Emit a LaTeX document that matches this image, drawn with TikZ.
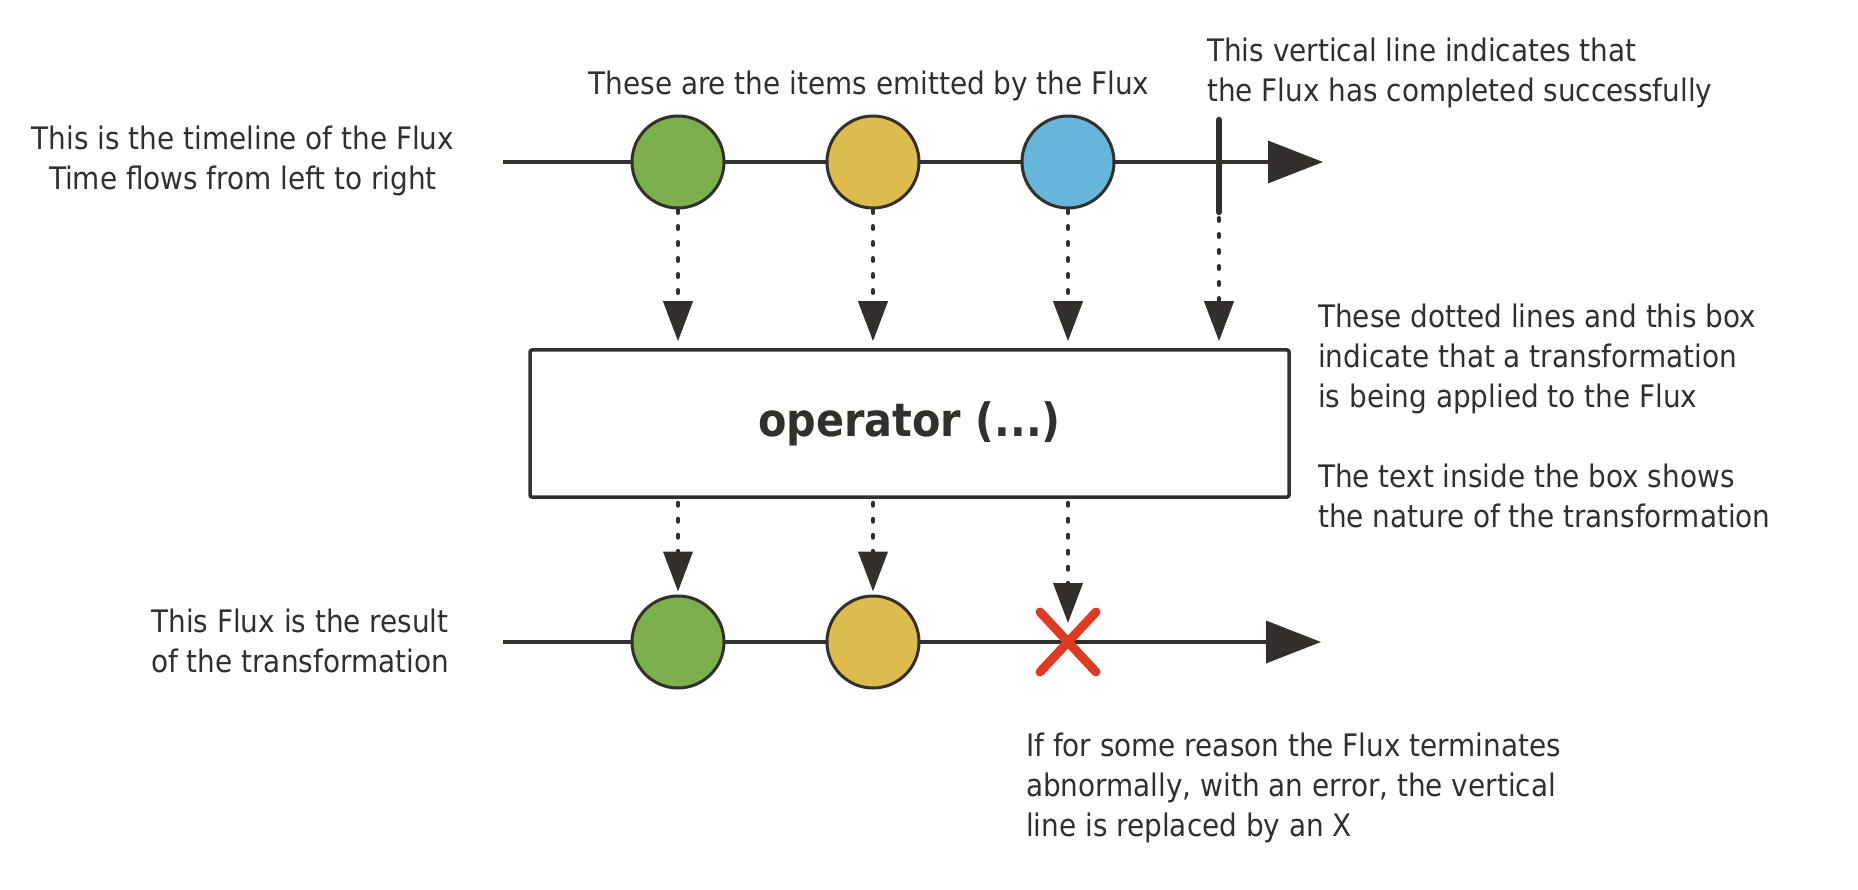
\documentclass[tikz,border=0pt]{standalone}
\usepackage{fontspec}
\setmainfont{DejaVu Sans Condensed}
\usepackage{xcolor}
\definecolor{itemgreen}{HTML}{7CB04E}
\definecolor{itemyellow}{HTML}{DEBB4F}
\definecolor{itemblue}{HTML}{66B5DB}
\definecolor{errred}{HTML}{DD3B24}
\definecolor{ink}{HTML}{33302B}
\usetikzlibrary{positioning, arrows.meta, calc}

\begin{document}
\begin{tikzpicture}[
  x=1pt, y=-1pt,
  note/.style={font=\fontsize{31}{40}\selectfont, text=ink, inner sep=0pt},
  item/.style={circle, draw=ink, line width=3pt, minimum size=92pt, inner sep=0pt},
  timeline/.style={draw=ink, line width=3.5pt, -{Triangle[length=55pt, width=42pt]}},
  dots/.style={draw=ink, line width=4pt, line cap=round, dash pattern=on 3pt off 13pt,
    -{Triangle[length=40pt, width=29pt]}},
  opbox/.style={draw=ink, line width=3.5pt, rounded corners=2pt, text=ink,
    minimum width=759pt, minimum height=147pt, font=\bfseries\fontsize{46}{54}\selectfont},
]
\useasboundingbox (0,0) rectangle (1858,890);

% Source Flux
\coordinate (src0) at (503,162);
\coordinate (src1) at (1323,162);
\draw[timeline] (src0) -- (src1);
\node[item, fill=itemgreen] (a1) at (678,162) {};
\node[item, fill=itemyellow] (a2) at (873,162) {};
\node[item, fill=itemblue] (a3) at (1068,162) {};
\coordinate (donetop) at (1219,120);
\coordinate (donebot) at (1219,212);
\draw[ink, line width=6.5pt, line cap=round] (donetop) -- (donebot);

% Operator
\node[opbox] (op) at (909.5,423.5) {operator (...)};
\draw[dots, shorten >=7pt] (a1) ++(0,48) -- (a1 |- op.north);
\draw[dots, shorten >=7pt] (a2) ++(0,48) -- (a2 |- op.north);
\draw[dots, shorten >=7pt] (a3) ++(0,48) -- (a3 |- op.north);
\draw[dots, shorten <=6pt, shorten >=7pt] (donebot) -- (donebot |- op.north);

% Result Flux
\coordinate (res0) at (503,642);
\coordinate (res1) at (1321,642);
\draw[timeline] (res0) -- (res1);
\node[item, fill=itemgreen] (b1) at (678,642) {};
\node[item, fill=itemyellow] (b2) at (873,642) {};
\coordinate (err) at (1068,642);
\draw[errred, line width=9pt, line cap=round] ($(err)+(-28,-30)$) -- ($(err)+(28,30)$)
  ($(err)+(28,-30)$) -- ($(err)+(-28,30)$);
\draw[dots, shorten <=4pt, shorten >=3pt] (b1 |- op.south) -- (b1.north);
\draw[dots, shorten <=4pt, shorten >=3pt] (b2 |- op.south) -- (b2.north);
\draw[dots, shorten <=4pt, shorten >=19pt] (err |- op.south) -- (err);

% Annotations (base = last line)
\node[note, anchor=base] (itemsnote) at (869,95) {These are the items emitted by the Flux};
\node[note, anchor=base west, align=left] (donenote) at (1207,102)
  {This vertical line indicates that\\the Flux has completed successfully};
\node[note, anchor=base, align=center] (srcnote) at (243,190)
  {This is the timeline of the Flux\\Time flows from left to right};
\node[note, anchor=base west, align=left] (opnote) at (1318,527)
  {These dotted lines and this box\\indicate that a transformation\\is being applied to the Flux\\[40pt]The text inside the box shows\\the nature of the transformation};
\node[note, anchor=base, align=center] (resnote) at (300,672)
  {This Flux is the result\\of the transformation};
\node[note, anchor=base west, align=left] (errnote) at (1026,836)
  {If for some reason the Flux terminates\\abnormally, with an error, the vertical\\line is replaced by an X};
\end{tikzpicture}
\end{document}
